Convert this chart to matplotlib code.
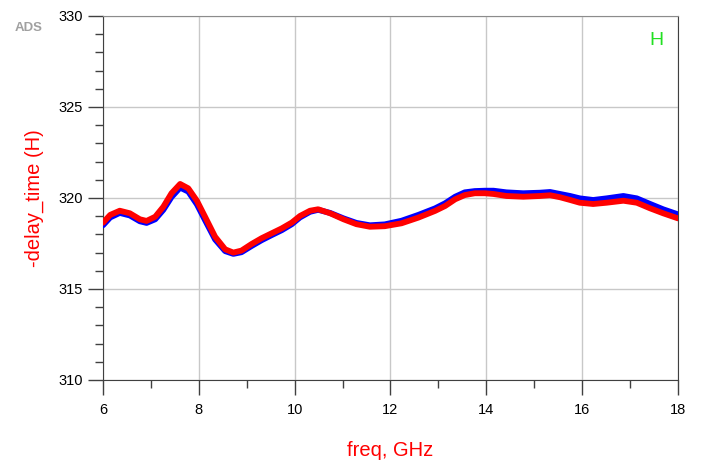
import matplotlib
matplotlib.use("Agg")
from matplotlib import pyplot as plt
from matplotlib.ticker import MultipleLocator

plt.rcParams['font.family'] = ['Liberation Sans', 'DejaVu Sans']

# values
freq = [6.0, 6.15, 6.35, 6.56, 6.77, 6.91, 7.09, 7.26, 7.43, 7.61, 7.78, 7.96,
        8.13, 8.34, 8.55, 8.72, 8.89, 9.10, 9.31, 9.52, 9.73, 9.94, 10.11, 10.32,
        10.49, 10.74, 11.02, 11.29, 11.57, 11.88, 12.23, 12.58, 12.93, 13.14,
        13.35, 13.55, 13.76, 13.97, 14.15, 14.42, 14.77, 15.12, 15.33, 15.54,
        15.75, 15.95, 16.23, 16.51, 16.86, 17.14, 17.42, 17.69, 18.0]
delay_red = [318.64, 319.07, 319.30, 319.16, 318.83, 318.74, 318.97, 319.52,
             320.26, 320.77, 320.53, 319.85, 318.97, 317.87, 317.18, 317.00,
             317.11, 317.47, 317.79, 318.06, 318.33, 318.65, 319.01, 319.30,
             319.38, 319.16, 318.83, 318.56, 318.42, 318.45, 318.61, 318.92,
             319.29, 319.56, 319.93, 320.16, 320.26, 320.26, 320.22, 320.11,
             320.07, 320.11, 320.15, 320.04, 319.89, 319.74, 319.67, 319.74,
             319.85, 319.74, 319.43, 319.16, 318.88]
delay_blue = [318.50, 318.93, 319.18, 319.04, 318.72, 318.63, 318.83, 319.35,
              320.05, 320.57, 320.35, 319.65, 318.78, 317.72, 317.08, 316.93,
              317.02, 317.36, 317.68, 317.96, 318.23, 318.56, 318.93, 319.24,
              319.35, 319.18, 318.88, 318.63, 318.50, 318.55, 318.75, 319.07,
              319.43, 319.71, 320.07, 320.31, 320.38, 320.40, 320.40, 320.31,
              320.26, 320.29, 320.33, 320.22, 320.11, 319.98, 319.89, 319.98,
              320.11, 319.98, 319.67, 319.38, 319.10]

fig = plt.figure(figsize=(7.02, 4.62), dpi=100)
ax = fig.add_axes([0.1467, 0.1775, 0.8191, 0.7879])

ax.plot(freq, delay_blue, color='#0000ff', lw=4.2, solid_capstyle='round',
        solid_joinstyle='round', zorder=3)
ax.plot(freq, delay_red, color='#ff0000', lw=4.2, solid_capstyle='round',
        solid_joinstyle='round', zorder=4)

ax.set_xlim(6, 18)
ax.set_ylim(310, 330)
ax.xaxis.set_major_locator(MultipleLocator(2))
ax.xaxis.set_minor_locator(MultipleLocator(1))
ax.yaxis.set_major_locator(MultipleLocator(5))
ax.yaxis.set_minor_locator(MultipleLocator(1))

ax.grid(True, which='major', color='#c8c8c8', lw=1.0)
ax.set_axisbelow(True)

ax.tick_params(which='major', direction='out', length=10.5, width=1, color='#404040',
               labelsize=10.5)
ax.tick_params(axis='x', which='major', pad=6)
ax.tick_params(axis='y', which='major', pad=4)
ax.tick_params(which='minor', direction='out', length=5.5, width=1, color='#404040')
for s in ['left', 'bottom', 'right']:
    ax.spines[s].set_color('#404040')
ax.spines['top'].set_color('#8c8c8c')

ax.set_xlabel('freq, GHz', color='#ff0000', fontsize=14.5, labelpad=17)
ax.set_ylabel('-delay_time (H)', color='#ff0000', fontsize=14.5, labelpad=10)

ax.text(0.975, 0.955, 'H', transform=ax.transAxes, color='#22e022', fontsize=14,
        ha='right', va='top')
fig.text(0.041, 0.94, 'ADS', color='#a0a0a0', fontsize=9.5, fontweight='bold',
         ha='center', va='center')

fig.savefig('out.png', dpi=100)
